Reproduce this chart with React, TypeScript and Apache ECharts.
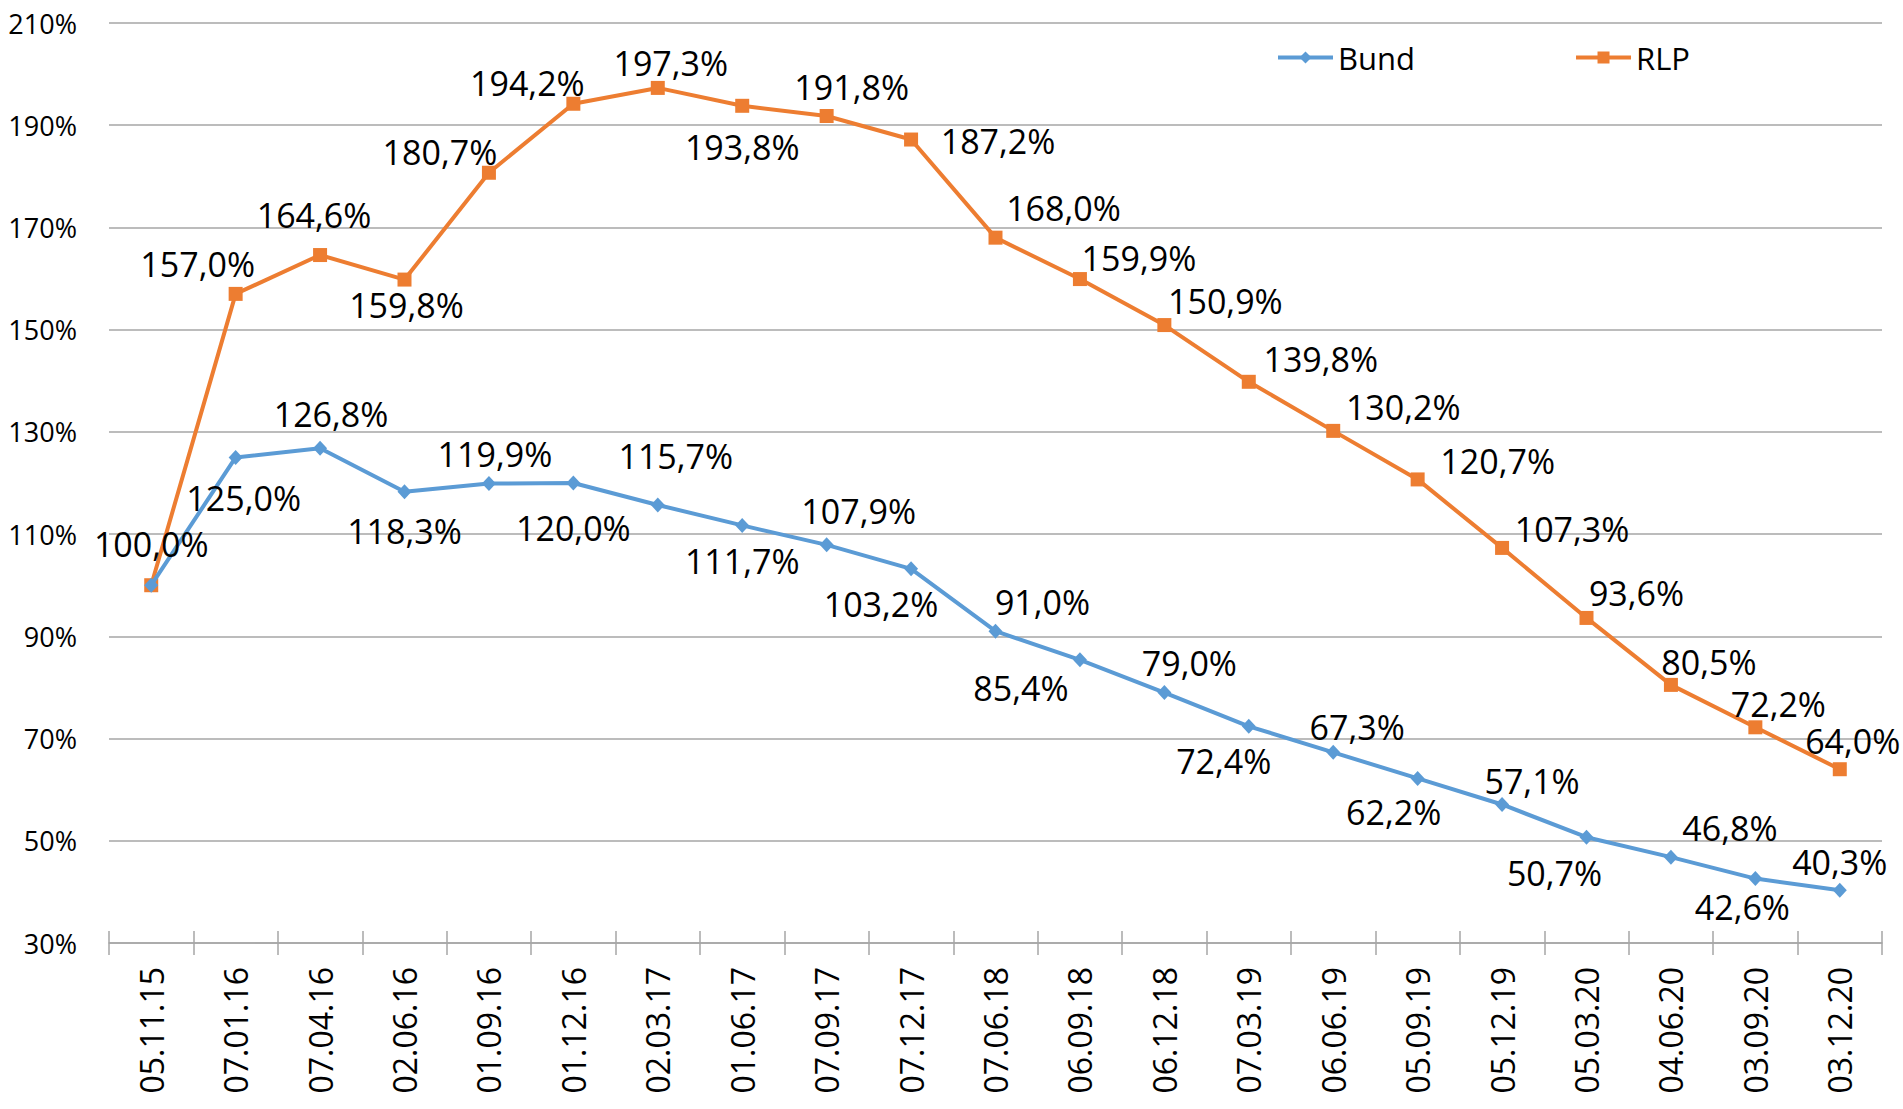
import React, { useEffect, useRef } from "react";
import * as echarts from "echarts";

const categories = [
  "05.11.15", "07.01.16", "07.04.16", "02.06.16", "01.09.16", "01.12.16", "02.03.17",
  "01.06.17", "07.09.17", "07.12.17", "07.06.18", "06.09.18", "06.12.18", "07.03.19",
  "06.06.19", "05.09.19", "05.12.19", "05.03.20", "04.06.20", "03.09.20", "03.12.20",
];

const bundValues = [
  100.0, 125.0, 126.8, 118.3, 119.9, 120.0, 115.7, 111.7, 107.9, 103.2, 91.0,
  85.4, 79.0, 72.4, 67.3, 62.2, 57.1, 50.7, 46.8, 42.6, 40.3,
];

const rlpValues = [
  100.0, 157.0, 164.6, 159.8, 180.7, 194.2, 197.3, 193.8, 191.8, 187.2, 168.0,
  159.9, 150.9, 139.8, 130.2, 120.7, 107.3, 93.6, 80.5, 72.2, 64.0,
];

const yTicks = { min: 30, max: 210, interval: 20 };

// label placement offsets (px) relative to each point
const bundLabelOffsets: [number, number][] = [
  [0, -41], [8, 41], [11, -34], [0, 39], [6, -30], [0, 45], [18, -49], [0, 36],
  [32, -34], [-30, 35], [47, -29], [-59, 28], [25, -30], [-25, 35], [24, -25],
  [-24, 34], [30, -23], [-32, 36], [59, -29], [-13, 28], [0, -28],
];
const rlpLabelOffsets: ([number, number] | null)[] = [
  null, [-38, -30], [-6, -40], [2, 25], [-49, -21], [-46, -21], [13, -25], [0, 41],
  [25, -29], [87, 1], [68, -30], [59, -21], [61, -24], [72, -23], [70, -24],
  [80, -18], [70, -19], [50, -25], [38, -23], [23, -23], [13, -28],
];

const FONT = "'Open Sans', 'Liberation Sans', sans-serif";
const BLUE = "#5B9BD5";
const ORANGE = "#ED7D31";
const GRID = "#a6a6a6";

const fmt = (v: number) => v.toFixed(1).replace(".", ",") + "%";

function buildData(values: number[], offsets: ([number, number] | null)[]) {
  return values.map((v, i) => {
    const off = offsets[i];
    if (!off) return { value: v, label: { show: false } };
    return { value: v, label: { show: true, position: "inside", offset: off } };
  });
}

export default function App() {
  const ref = useRef<HTMLDivElement>(null);
  useEffect(() => {
    if (!ref.current) return;
    const chart = echarts.init(ref.current, undefined, { renderer: "svg" });
    const labelStyle = {
      color: "#000",
      fontFamily: FONT,
      fontSize: 34,
      formatter: (p: any) => fmt(p.value),
    };
    chart.setOption({
      animation: false,
      backgroundColor: "#fff",
      textStyle: { fontFamily: FONT },
      grid: { left: 109, right: 21, top: 23, bottom: 166, containLabel: false },
      legend: {
        data: [
          { name: "Bund", lineStyle: { width: 4 } },
          { name: "RLP", lineStyle: { width: 4 } },
        ],
        left: 1271,
        top: 37,
        itemWidth: 55,
        itemHeight: 15,
        itemGap: 159,
        textStyle: { fontFamily: FONT, fontSize: 31, color: "#000", padding: [0, 0, 0, 0] },
      },
      xAxis: [
        {
          type: "category",
          data: categories,
          boundaryGap: true,
          axisLine: { show: true, lineStyle: { color: GRID, width: 1.5 } },
          axisTick: { show: true, length: 12, lineStyle: { color: GRID, width: 1.5 } },
          axisLabel: {
            rotate: 90,
            interval: 0,
            margin: 24,
            color: "#000",
            fontFamily: FONT,
            fontSize: 32,
          },
          splitLine: { show: false },
        },
        {
          type: "category",
          data: categories,
          boundaryGap: true,
          position: "bottom",
          axisLine: { show: false },
          axisTick: { show: true, inside: true, length: 12, lineStyle: { color: GRID, width: 1.5 } },
          axisLabel: { show: false },
          splitLine: { show: false },
        },
      ],
      yAxis: {
        type: "value",
        min: yTicks.min,
        max: yTicks.max,
        interval: yTicks.interval,
        axisLine: { show: false },
        axisTick: { show: false },
        axisLabel: {
          color: "#000",
          fontFamily: FONT,
          fontSize: 27,
          margin: 32,
          formatter: (v: number) => v + "%",
        },
        splitLine: { show: true, lineStyle: { color: GRID, width: 1.5 } },
      },
      series: [
        {
          name: "Bund",
          type: "line",
          data: buildData(bundValues, bundLabelOffsets),
          color: BLUE,
          lineStyle: { color: BLUE, width: 4 },
          symbol: "diamond",
          symbolSize: [14, 15],
          itemStyle: { color: BLUE },
          label: labelStyle,
          z: 3,
        },
        {
          name: "RLP",
          type: "line",
          data: buildData(rlpValues, rlpLabelOffsets),
          color: ORANGE,
          lineStyle: { color: ORANGE, width: 4 },
          symbol: "rect",
          symbolSize: 14,
          itemStyle: { color: ORANGE },
          label: labelStyle,
          z: 2,
        },
      ],
    });
    return () => chart.dispose();
  }, []);
  return (
    <div
      ref={ref}
      style={{ position: "absolute", left: 0, top: 0, width: 1903, height: 1109 }}
    />
  );
}
